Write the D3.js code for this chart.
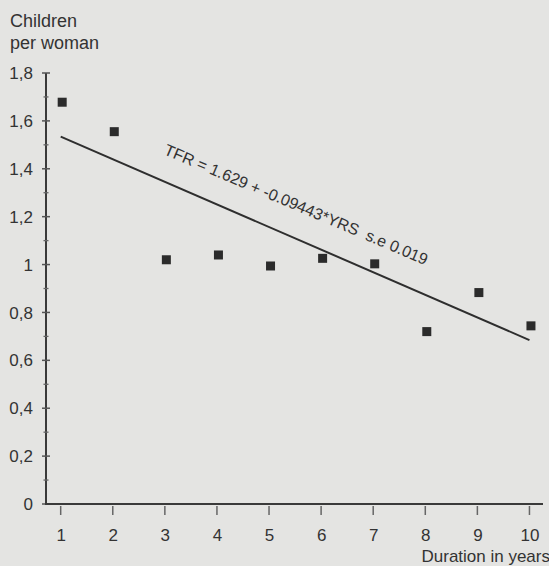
<!DOCTYPE html>
<html>
<head>
<meta charset="utf-8">
<script src="https://cdn.jsdelivr.net/npm/d3@7/dist/d3.min.js"></script>
<style>
  html, body { margin: 0; padding: 0; background: #e4e4e2; }
  svg { display: block; }
  text { font-family: "Liberation Sans", Arial, sans-serif; fill: #333; }
</style>
</head>
<body>
<svg id="chart" width="549" height="566"></svg>
<script>
// ---- data ----
const years = [1, 2, 3, 4, 5, 6, 7, 8, 9, 10];
const tfr = [1.678, 1.555, 1.020, 1.040, 0.994, 1.026, 1.003, 0.720, 0.883, 0.744];
const fitYears = [1, 10];
const fitIntercept = 1.629;
const fitSlope = -0.09443;
const yTicks = [0, 0.2, 0.4, 0.6, 0.8, 1, 1.2, 1.4, 1.6, 1.8];
const yMinorTicks = [0.1, 0.3, 0.5, 0.7, 0.9, 1.1, 1.3, 1.5, 1.7];
const xTicks = [1, 2, 3, 4, 5, 6, 7, 8, 9, 10];
const yTitle = ["Children", "per woman"];
const xTitle = "Duration in years";
const equation = "TFR = 1.629 + -0.09443*YRS  s.e 0.019";

const svg = d3.select("#chart");
svg.append("rect").attr("width", 549).attr("height", 566).attr("fill", "#e4e4e2");

const x = d3.scaleLinear().domain([0.718, 10.26]).range([46, 543]);
const y = d3.scaleLinear().domain([0, 1.8]).range([504, 73]);

const fmt = d => String(d).replace(".", ",");

// y axis
const yAxis = svg.append("g").attr("transform", `translate(${x.range()[0]},0)`);
yAxis.append("line").attr("y1", y(0)).attr("y2", y(1.8)).attr("stroke", "#3a3a3a").attr("stroke-width", 2);
yAxis.selectAll(".maj").data(yTicks).join("line")
  .attr("x1", -4).attr("x2", 4).attr("y1", d => y(d)).attr("y2", d => y(d))
  .attr("stroke", "#555").attr("stroke-width", 1.5);
yAxis.selectAll(".min").data(yMinorTicks).join("line")
  .attr("x1", -2.5).attr("x2", 2.5).attr("y1", d => y(d)).attr("y2", d => y(d))
  .attr("stroke", "#666").attr("stroke-width", 1.3);
svg.selectAll(".ylab").data(yTicks).join("text")
  .attr("x", 33).attr("y", d => y(d)).attr("dy", "0.36em")
  .attr("text-anchor", "end").attr("font-size", 17).text(fmt);

// x axis
const xAxis = svg.append("g").attr("transform", `translate(0,${y(0)})`);
xAxis.append("line").attr("x1", x.range()[0] - 1).attr("x2", x.range()[1]).attr("stroke", "#3a3a3a").attr("stroke-width", 2);
xAxis.selectAll(".xt").data(xTicks).join("line")
  .attr("x1", d => x(d)).attr("x2", d => x(d)).attr("y1", 2).attr("y2", 11)
  .attr("stroke", "#666").attr("stroke-width", 1.5);
svg.selectAll(".xlab").data(xTicks).join("text")
  .attr("x", d => x(d) + 0.5).attr("y", 541)
  .attr("text-anchor", "middle").attr("font-size", 17).text(d => d);

// titles
svg.selectAll(".yt").data(yTitle).join("text")
  .attr("x", 10).attr("y", (d, i) => 27 + i * 22)
  .attr("font-size", 18).text(d => d);
svg.append("text").attr("x", 550).attr("y", 562).attr("text-anchor", "end")
  .attr("font-size", 17).text(xTitle);

// regression line
const fitPts = fitYears.map(v => [v, fitIntercept + fitSlope * v]);
svg.append("path")
  .attr("d", d3.line().x(d => x(d[0])).y(d => y(d[1]))(fitPts))
  .attr("stroke", "#2e2e2e").attr("stroke-width", 2).attr("fill", "none");

// equation label
svg.append("text")
  .attr("transform", "translate(163,154) rotate(23)")
  .attr("font-size", 16).attr("xml:space", "preserve").style("white-space", "pre")
  .text(equation);

// points
const s = 9;
svg.selectAll(".pt").data(years.map((v, i) => [v, tfr[i]])).join("rect")
  .attr("x", d => x(d[0]) + 1.5 - s / 2).attr("y", d => y(d[1]) - s / 2)
  .attr("width", s).attr("height", s).attr("fill", "#2b2b2b");
</script>
</body>
</html>
